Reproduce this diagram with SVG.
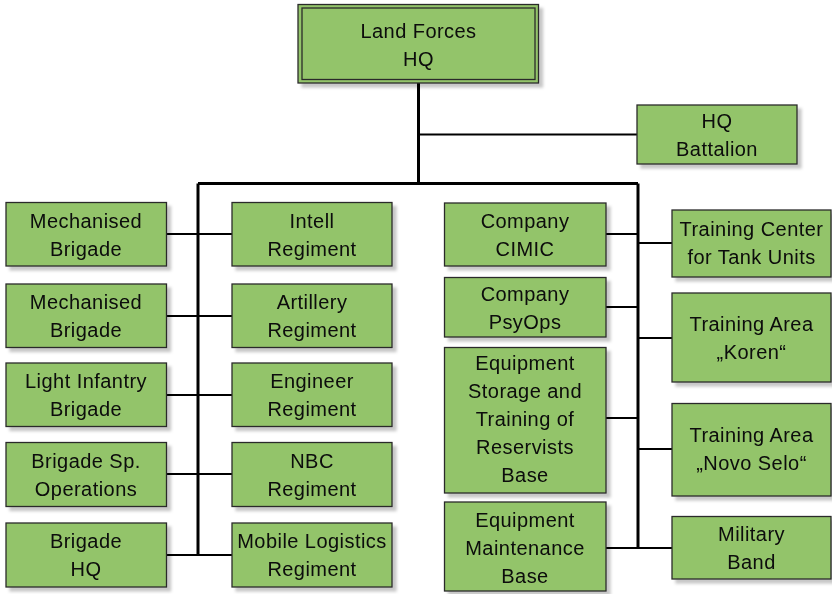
<svg xmlns="http://www.w3.org/2000/svg" width="832" height="594" viewBox="0 0 832 594">
<style>
.box{fill:#93C46A;stroke:#2b2b2b;stroke-width:1.3}
.t{font-family:"Liberation Sans",Arial,sans-serif;font-size:20px;letter-spacing:0.45px;fill:#0a0a0a;text-anchor:middle}
.ln{fill:none;stroke:#000;stroke-width:2}
.bus{fill:none;stroke:#000;stroke-width:3}
</style>
<defs>
<filter id="sh" x="-10%" y="-10%" width="130%" height="140%">
<feDropShadow dx="4" dy="4" stdDeviation="1.5" flood-color="#000" flood-opacity="0.22"/>
</filter>
</defs>
<rect width="832" height="594" fill="#fff"/>
<g id="connectors">
<path class="bus" d="M418.5,83 V183.5 M198,183.5 H638 M198,183.5 V555.5 M638,183.5 V548"/>
<path class="ln" stroke-width="1.6" d="M418.5,134.5 H637"/>
<path class="ln" d="M166,234 H232 M166,316 H232 M166,395 H232 M166,474 H232 M166,555 H232"/>
<path class="ln" d="M606,234 H638 M638,243 H672 M606,307 H638 M638,338 H672 M606,418 H638 M638,449 H672 M606,548 H672"/>
</g>
<g id="n-landforces" filter="url(#sh)">
<rect class="box" x="298" y="4.5" width="240.5" height="78.5"/>
<rect x="302" y="8" width="233" height="71.5" fill="none" stroke="#2b2b2b" stroke-width="1.3"/>
<text class="t"><tspan x="418.5" y="37.5">Land Forces</tspan><tspan x="418.5" y="65.5">HQ</tspan></text>
</g>
<g id="n-hqbattalion" filter="url(#sh)">
<rect class="box" x="637" y="105" width="160" height="59"/>
<text class="t"><tspan x="717" y="128">HQ</tspan><tspan x="717" y="156">Battalion</tspan></text>
</g>
<g id="n-mech1" filter="url(#sh)">
<rect class="box" x="6" y="202.5" width="160.5" height="63.5"/>
<text class="t"><tspan x="86" y="227.5">Mechanised</tspan><tspan x="86" y="255.5">Brigade</tspan></text>
</g>
<g id="n-mech2" filter="url(#sh)">
<rect class="box" x="6" y="284" width="160.5" height="63.5"/>
<text class="t"><tspan x="86" y="309">Mechanised</tspan><tspan x="86" y="337">Brigade</tspan></text>
</g>
<g id="n-lightinf" filter="url(#sh)">
<rect class="box" x="6" y="363" width="160.5" height="63.5"/>
<text class="t"><tspan x="86" y="388">Light Infantry</tspan><tspan x="86" y="416">Brigade</tspan></text>
</g>
<g id="n-brigsp" filter="url(#sh)">
<rect class="box" x="6" y="442.5" width="160.5" height="64"/>
<text class="t"><tspan x="86" y="467.5">Brigade Sp.</tspan><tspan x="86" y="495.5">Operations</tspan></text>
</g>
<g id="n-brighq" filter="url(#sh)">
<rect class="box" x="6" y="523" width="160.5" height="64"/>
<text class="t"><tspan x="86" y="548">Brigade</tspan><tspan x="86" y="576">HQ</tspan></text>
</g>
<g id="n-intell" filter="url(#sh)">
<rect class="box" x="232" y="202.5" width="160" height="63.5"/>
<text class="t"><tspan x="312" y="227.5">Intell</tspan><tspan x="312" y="255.5">Regiment</tspan></text>
</g>
<g id="n-artillery" filter="url(#sh)">
<rect class="box" x="232" y="284" width="160" height="63.5"/>
<text class="t"><tspan x="312" y="309">Artillery</tspan><tspan x="312" y="337">Regiment</tspan></text>
</g>
<g id="n-engineer" filter="url(#sh)">
<rect class="box" x="232" y="363" width="160" height="63.5"/>
<text class="t"><tspan x="312" y="388">Engineer</tspan><tspan x="312" y="416">Regiment</tspan></text>
</g>
<g id="n-nbc" filter="url(#sh)">
<rect class="box" x="232" y="442.5" width="160" height="64"/>
<text class="t"><tspan x="312" y="467.5">NBC</tspan><tspan x="312" y="495.5">Regiment</tspan></text>
</g>
<g id="n-mobilelog" filter="url(#sh)">
<rect class="box" x="232" y="523" width="160" height="64"/>
<text class="t"><tspan x="312" y="548">Mobile Logistics</tspan><tspan x="312" y="576">Regiment</tspan></text>
</g>
<g id="n-cimic" filter="url(#sh)">
<rect class="box" x="444.5" y="203" width="161.5" height="63"/>
<text class="t"><tspan x="525" y="228">Company</tspan><tspan x="525" y="256">CIMIC</tspan></text>
</g>
<g id="n-psyops" filter="url(#sh)">
<rect class="box" x="444.5" y="277.5" width="161.5" height="59.5"/>
<text class="t"><tspan x="525" y="300.5">Company</tspan><tspan x="525" y="328.5">PsyOps</tspan></text>
</g>
<g id="n-eqstorage" filter="url(#sh)">
<rect class="box" x="444.5" y="347.5" width="161.5" height="145.5"/>
<text class="t"><tspan x="525" y="369.5">Equipment</tspan><tspan x="525" y="397.5">Storage and</tspan><tspan x="525" y="425.5">Training of</tspan><tspan x="525" y="453.5">Reservists</tspan><tspan x="525" y="481.5">Base</tspan></text>
</g>
<g id="n-eqmaint" filter="url(#sh)">
<rect class="box" x="444.5" y="502" width="161.5" height="89"/>
<text class="t"><tspan x="525" y="526.5">Equipment</tspan><tspan x="525" y="554.5">Maintenance</tspan><tspan x="525" y="582.5">Base</tspan></text>
</g>
<g id="n-tankcenter" filter="url(#sh)">
<rect class="box" x="672" y="210" width="159" height="67"/>
<text class="t"><tspan x="751.5" y="236">Training Center</tspan><tspan x="751.5" y="264">for Tank Units</tspan></text>
</g>
<g id="n-koren" filter="url(#sh)">
<rect class="box" x="672" y="293" width="159" height="89"/>
<text class="t"><tspan x="751.5" y="331">Training Area</tspan><tspan x="751.5" y="359">„Koren“</tspan></text>
</g>
<g id="n-novoselo" filter="url(#sh)">
<rect class="box" x="672" y="403.5" width="159" height="92.5"/>
<text class="t"><tspan x="751.5" y="442">Training Area</tspan><tspan x="751.5" y="470">„Novo Selo“</tspan></text>
</g>
<g id="n-band" filter="url(#sh)">
<rect class="box" x="672" y="516.5" width="159" height="62.5"/>
<text class="t"><tspan x="751.5" y="541">Military</tspan><tspan x="751.5" y="569">Band</tspan></text>
</g>
</svg>
